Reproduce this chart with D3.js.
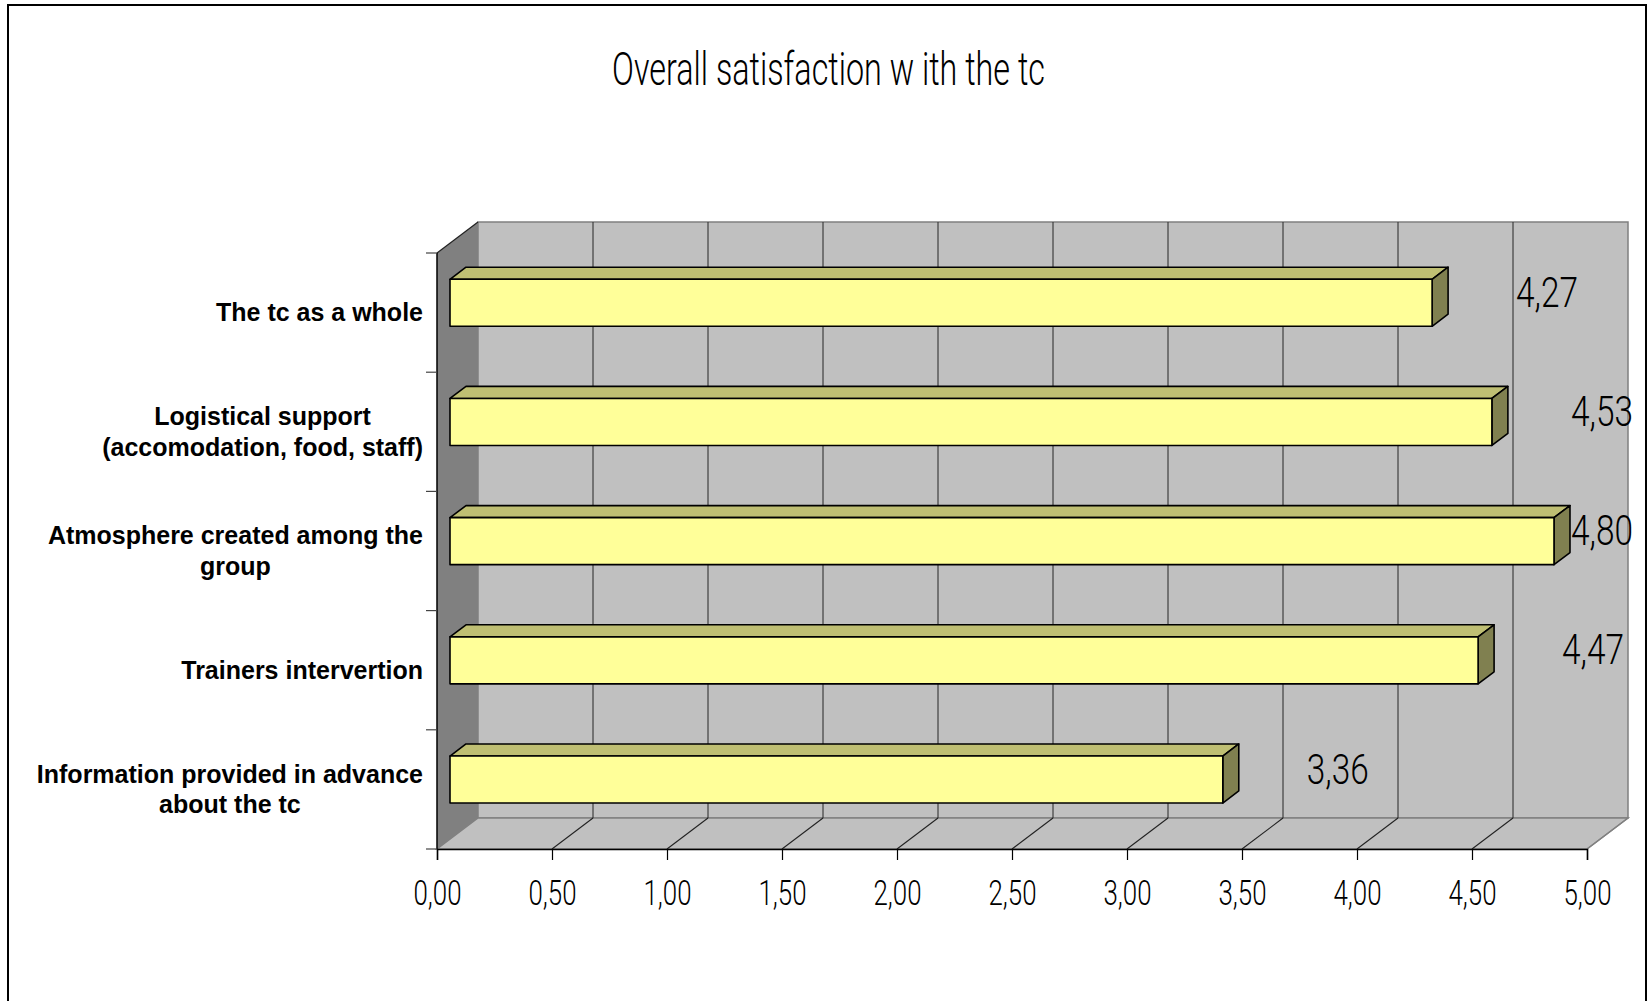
<!DOCTYPE html>
<html>
<head>
<meta charset="utf-8">
<script src="https://cdn.jsdelivr.net/npm/d3@7"></script>
<style>
  html, body { margin: 0; padding: 0; background: #fff; }
  svg { display: block; }
</style>
</head>
<body>
<svg id="chart" width="1648" height="1001"></svg>
<script>
// Category labels (top to bottom), split into their display lines
const categoryLines = [
  ["The tc as a whole"],
  ["Logistical support", "(accomodation, food, staff)"],
  ["Atmosphere created among the", "group"],
  ["Trainers intervertion"],
  ["Information provided in advance", "about the tc"]
];
const categories = categoryLines.map(l => l.join(" "));
const values = [4.27, 4.53, 4.80, 4.47, 3.36];
const tickValues = [0, 0.5, 1, 1.5, 2, 2.5, 3, 3.5, 4, 4.5, 5];
const titleText = "Overall satisfaction w ith the tc";

const W = 1648, H = 1001;
const svg = d3.select("#chart");

const narrow = "Roboto, 'Liberation Sans Narrow', 'DejaVu Sans Condensed', sans-serif";
const narrowWeight = 300;
const bold = "'Liberation Sans', Arial, sans-serif";

// decimal comma formatting
const locale = d3.formatLocale({decimal: ",", thousands: ".", grouping: [3], currency: ["", "€"]});
const fmt = locale.format(".2f");

// front plane of the 3D box
const x = d3.scaleLinear().domain([0, 5]).range([437, 1587]);
const y = d3.scaleBand().domain(categories).range([253, 849]).padding(0);

// depth of the box (projection offsets for the back plane)
const DX = 41, DY = -31;
const proj = (px, py, f) => [px + DX * f, py + DY * f];

// bar depth range (fractions of box depth) and bar thickness
const f1 = 0.317, f2 = 0.707;
const barH = 47;

// outer frame
svg.append("rect").attr("x", 0).attr("y", 0).attr("width", W).attr("height", H).attr("fill", "#fff");
svg.append("rect").attr("x", 8).attr("y", 5).attr("width", 1638).attr("height", 1020)
  .attr("fill", "none").attr("stroke", "#000").attr("stroke-width", 2);

// title
svg.append("text")
  .attr("x", 828.5).attr("y", 85)
  .attr("text-anchor", "middle")
  .attr("font-family", narrow).attr("font-weight", narrowWeight).attr("font-size", 46)
  .attr("textLength", 433).attr("lengthAdjust", "spacingAndGlyphs")
  .attr("fill", "#000")
  .text(titleText);

const x0 = x(0), x5 = x(5), yT = y.range()[0], yB = y.range()[1];

// back wall
svg.append("rect")
  .attr("x", x0 + DX).attr("y", yT + DY)
  .attr("width", x5 - x0).attr("height", yB - yT)
  .attr("fill", "#c0c0c0").attr("stroke", "#808080").attr("stroke-width", 1.5);

// floor
const floorPts = [[x0, yB], [x5, yB], proj(x5, yB, 1), proj(x0, yB, 1)];
svg.append("polygon").attr("points", floorPts.map(p => p.join(",")).join(" "))
  .attr("fill", "#c0c0c0").attr("stroke", "#808080").attr("stroke-width", 1.5);

// left side wall
const wallPts = [[x0, yT], proj(x0, yT, 1), proj(x0, yB, 1), [x0, yB]];
svg.append("polygon").attr("points", wallPts.map(p => p.join(",")).join(" "))
  .attr("fill", "#808080").attr("stroke", "none");
svg.append("line")
  .attr("x1", x0).attr("y1", yT).attr("x2", x0 + DX).attr("y2", yT + DY)
  .attr("stroke", "#222").attr("stroke-width", 1.2);

// gridlines on the back wall and floor
const grid = svg.append("g").attr("stroke", "#333").attr("stroke-width", 1.1);
tickValues.filter(v => v > 0 && v < 5).forEach(v => {
  grid.append("line")
    .attr("x1", x(v) + DX).attr("y1", yT + DY)
    .attr("x2", x(v) + DX).attr("y2", yB + DY);
});
tickValues.filter(v => v > 0).forEach(v => {
  grid.append("line")
    .attr("x1", x(v)).attr("y1", yB)
    .attr("x2", x(v) + DX).attr("y2", yB + DY)
    .attr("stroke", v === 5 ? "#808080" : "#222");
});

// x axis
const xAxis = d3.axisBottom(x).tickValues(tickValues).tickSize(11).tickPadding(20)
  .tickFormat(d => fmt(d));
const gx = svg.append("g").attr("transform", `translate(0,${yB})`).call(xAxis);
gx.select(".domain").attr("stroke", "#000").attr("stroke-width", 1.5);
gx.selectAll(".tick line").attr("stroke", "#000").attr("stroke-width", 1.2);
gx.selectAll(".tick text")
  .attr("font-family", narrow).attr("font-weight", narrowWeight).attr("font-size", 35).attr("fill", "#000")
  .attr("dy", null).attr("y", 56)
  .attr("textLength", 48).attr("lengthAdjust", "spacingAndGlyphs");

// y axis (line + boundary ticks)
svg.append("line").attr("x1", x0).attr("y1", yT).attr("x2", x0).attr("y2", yB)
  .attr("stroke", "#000").attr("stroke-width", 1.5);
const boundaries = categories.map(c => y(c)).concat([yB]);
svg.append("g").selectAll("line").data(boundaries).join("line")
  .attr("x1", x0 - 11).attr("x2", x0).attr("y1", d => d).attr("y2", d => d)
  .attr("stroke", "#444").attr("stroke-width", 1.2);

// category labels
const catG = svg.append("g")
  .attr("font-family", bold).attr("font-weight", "bold").attr("font-size", 25).attr("fill", "#000");
categoryLines.forEach((lines, i) => {
  const cy = y(categories[i]) + y.bandwidth() / 2;
  const lineGap = 30.5;
  const g = catG.append("g");
  const texts = lines.map((ln, j) => g.append("text")
    .attr("y", cy + (j - (lines.length - 1) / 2) * lineGap + 8.5)
    .attr("text-anchor", "middle")
    .text(ln));
  const maxW = d3.max(texts, t => t.node().getComputedTextLength());
  const rightEdge = 423;
  texts.forEach(t => t.attr("x", rightEdge - maxW / 2));
});

// 3D bars
const barsG = svg.append("g").attr("stroke", "#000").attr("stroke-width", 1.6).attr("stroke-linejoin", "round");
values.forEach((v, i) => {
  const cy = y(categories[i]) + y.bandwidth() / 2;
  const top = cy - barH / 2, bot = cy + barH / 2;
  const A = proj(x(0), top, f1), B = proj(x(v), top, f1), C = proj(x(v), bot, f1);
  const Ab = proj(x(0), top, f2), Bb = proj(x(v), top, f2), Cb = proj(x(v), bot, f2);
  const pts = a => a.map(p => p.join(",")).join(" ");
  // top face
  barsG.append("polygon").attr("points", pts([A, B, Bb, Ab])).attr("fill", "#bfbf73");
  // end face
  barsG.append("polygon").attr("points", pts([B, Bb, Cb, C])).attr("fill", "#808050");
  // front face
  const D = proj(x(0), bot, f1);
  barsG.append("polygon").attr("points", pts([A, B, C, D])).attr("fill", "#ffff99");
});

// value labels, kept inside the frame
const labG = svg.append("g").attr("font-family", narrow).attr("font-weight", narrowWeight)
  .attr("font-size", 42).attr("fill", "#000");
values.forEach((v, i) => {
  const cy = y(categories[i]) + y.bandwidth() / 2 + DY * f1;
  const cx = Math.min(x(v) + 128, 1602);
  labG.append("text")
    .attr("x", cx).attr("y", cy + 4)
    .attr("text-anchor", "middle")
    .attr("textLength", 62).attr("lengthAdjust", "spacingAndGlyphs")
    .text(fmt(v));
});
</script>
</body>
</html>
